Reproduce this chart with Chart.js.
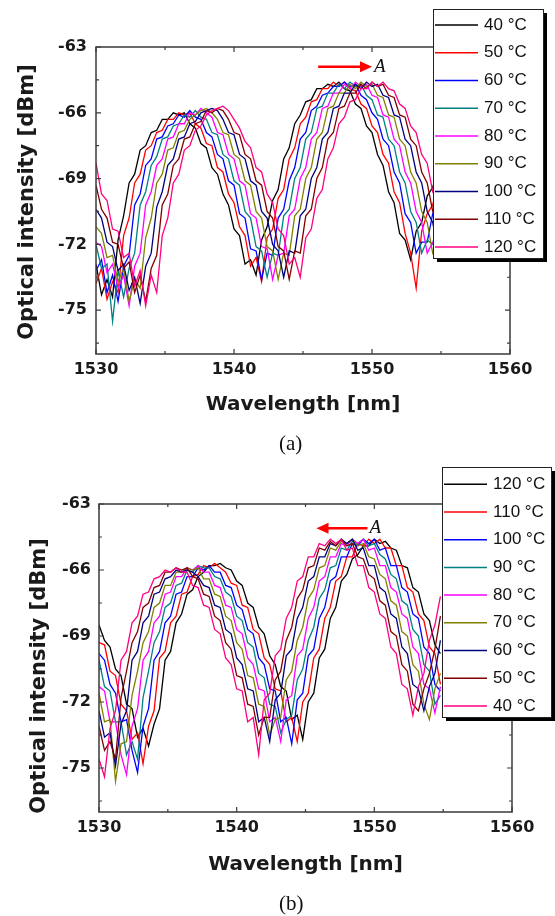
<!DOCTYPE html>
<html>
<head>
<meta charset="utf-8">
<script src="https://cdn.jsdelivr.net/npm/chart.js@4.4.1/dist/chart.umd.min.js"></script>
<style>
  body { margin: 0; background: #fff; width: 555px; height: 916px; overflow: hidden; position: relative; }
  .panel { position: absolute; left: 0; width: 555px; }
  .tag { position: absolute; font-family: "Liberation Serif", "Times New Roman", serif; font-size: 21px; color: #111; line-height: 24px; }
</style>
</head>
<body>
<div class="panel" style="top:0;height:457px"><canvas id="chartA"></canvas></div>
<div class="panel" style="top:457px;height:459px"><canvas id="chartB"></canvas></div>
<div class="tag" style="left:279px;top:431px">(a)</div>
<div class="tag" style="left:279px;top:891px">(b)</div>
<script>
// wavelength grid shared by every trace (nm)
const wavelength = [
  1530.0,1530.4,1530.8,1531.2,1531.6,1532.0,1532.4,1532.8,1533.2,1533.6,
  1534.0,1534.4,1534.8,1535.2,1535.6,1536.0,1536.4,1536.8,1537.2,1537.6,
  1538.0,1538.4,1538.8,1539.2,1539.6,1540.0,1540.4,1540.8,1541.2,1541.6,
  1542.0,1542.4,1542.8,1543.2,1543.6,1544.0,1544.4,1544.8,1545.2,1545.6,
  1546.0,1546.4,1546.8,1547.2,1547.6,1548.0,1548.4,1548.8,1549.2,1549.6,
  1550.0,1550.4,1550.8,1551.2,1551.6,1552.0,1552.4,1552.8,1553.2,1553.6,
  1554.0,1554.4,1554.8
];

const xTicks = [1530, 1540, 1550, 1560];
const xMinor = [1535, 1545, 1555];
const yTicks = [-63, -66, -69, -72, -75];
const yMinor = [-64.5, -67.5, -70.5, -73.5, -76.5];

const colors = ['#000000', '#ff0000', '#0000ff', '#008080', '#ff00ff', '#808000', '#000080', '#800000', '#ff0080'];
const labelsA = ['40 °C', '50 °C', '60 °C', '70 °C', '80 °C', '90 °C', '100 °C', '110 °C', '120 °C'];
const labelsB = ['120 °C', '110 °C', '100 °C', '90 °C', '80 °C', '70 °C', '60 °C', '50 °C', '40 °C'];

// (a) heating
const a40 = [
  -72.9,-74.3,-73.6,-74.4,-71.8,-70.7,-69.2,-68.8,-67.7,-67.5,
  -66.9,-66.8,-66.3,-66.3,-66.0,-66.1,-66.0,-66.5,-66.7,-67.4,
  -67.6,-68.5,-68.8,-69.7,-70.2,-71.3,-71.6,-72.9,-72.7,-73.4,
  -71.8,-71.2,-70.0,-69.5,-68.1,-67.6,-66.5,-66.1,-65.5,-65.4,
  -64.9,-64.9,-64.7,-64.8,-64.6,-64.9,-65.0,-65.6,-65.8,-66.6,
  -66.9,-67.9,-68.4,-69.6,-70.1,-71.5,-71.8,-72.7,-71.4,-71.0,
  -69.8,-69.4,-68.5
];
const a50 = [
  -73.8,-73.1,-74.5,-73.7,-74.2,-71.6,-70.8,-69.2,-68.8,-67.7,
  -67.5,-66.9,-66.8,-66.3,-66.3,-66.0,-66.1,-66.0,-66.5,-66.7,
  -67.4,-67.5,-68.5,-68.7,-69.7,-70.1,-71.2,-71.6,-73.0,-72.6,
  -73.7,-71.7,-71.3,-69.9,-69.5,-68.1,-67.6,-66.5,-66.2,-65.5,
  -65.4,-64.9,-64.9,-64.6,-64.8,-64.6,-64.9,-65.0,-65.6,-65.8,
  -66.6,-66.9,-67.9,-68.3,-69.6,-70.1,-71.5,-72.4,-74.0,-71.4,
  -70.6,-70.2,-69.1
];
const a60 = [
  -73.2,-72.7,-74.2,-73.4,-74.6,-73.0,-72.5,-70.2,-69.7,-68.4,
  -68.1,-67.2,-67.1,-66.6,-66.5,-66.1,-66.2,-65.9,-66.2,-66.3,
  -66.9,-67.1,-67.9,-68.1,-69.1,-69.3,-70.6,-70.8,-72.2,-72.3,
  -73.6,-72.4,-72.5,-70.8,-70.4,-69.1,-68.5,-67.2,-66.9,-65.9,
  -65.7,-65.2,-65.1,-64.8,-64.8,-64.6,-64.8,-64.7,-65.2,-65.4,
  -66.0,-66.3,-67.2,-67.5,-68.7,-69.2,-70.6,-71.0,-72.4,-71.9,
  -71.9,-70.6,-70.2
];
const a70 = [
  -72.0,-73.1,-72.9,-75.5,-73.2,-74.4,-73.1,-72.4,-70.2,-69.6,
  -68.4,-68.0,-67.2,-67.1,-66.6,-66.5,-66.1,-66.2,-65.9,-66.2,
  -66.3,-66.9,-67.0,-67.9,-68.1,-69.1,-69.3,-70.5,-70.8,-72.1,
  -72.3,-73.5,-72.4,-72.5,-70.7,-70.4,-69.0,-68.5,-67.2,-66.9,
  -65.8,-65.7,-65.1,-65.1,-64.7,-64.9,-64.6,-64.8,-64.7,-65.2,
  -65.4,-66.1,-66.2,-67.2,-67.5,-68.7,-69.2,-70.5,-71.0,-72.4,
  -71.8,-72.0,-70.6
];
const a80 = [
  -71.9,-72.1,-73.3,-72.9,-74.0,-73.4,-74.8,-73.0,-72.4,-70.2,
  -69.6,-68.4,-68.1,-67.2,-67.1,-66.5,-66.5,-66.0,-66.1,-65.8,
  -66.0,-66.2,-66.9,-67.0,-67.9,-68.1,-69.1,-69.3,-70.6,-70.8,
  -72.1,-72.2,-73.6,-72.5,-72.4,-70.7,-70.4,-69.0,-68.5,-67.2,
  -66.9,-65.8,-65.7,-65.1,-65.1,-64.7,-64.9,-64.6,-64.8,-64.7,
  -65.2,-65.3,-66.1,-66.2,-67.2,-67.5,-68.7,-69.2,-70.5,-71.0,
  -72.4,-71.9,-71.8
];
const a90 = [
  -71.2,-71.5,-72.6,-72.5,-73.7,-73.1,-74.6,-73.6,-74.0,-71.7,
  -70.8,-69.2,-68.8,-67.7,-67.6,-66.9,-66.8,-66.3,-66.1,-65.9,
  -65.8,-66.0,-66.3,-66.9,-67.0,-67.9,-68.1,-69.1,-69.3,-70.5,
  -70.8,-72.1,-72.3,-73.6,-72.4,-72.5,-70.7,-70.4,-69.0,-68.5,
  -67.2,-66.9,-65.8,-65.7,-65.1,-65.1,-64.7,-64.9,-64.6,-64.8,
  -64.7,-65.2,-65.3,-66.1,-66.2,-67.2,-67.5,-68.7,-69.2,-70.5,
  -71.0,-72.4,-72.0
];
const a100 = [
  -70.4,-70.8,-71.9,-72.1,-73.2,-72.9,-74.1,-73.5,-74.7,-73.0,
  -72.4,-70.3,-69.6,-68.4,-68.1,-67.2,-67.1,-66.5,-66.4,-66.0,
  -65.9,-65.8,-65.9,-66.3,-66.9,-67.0,-67.9,-68.1,-69.1,-69.3,
  -70.5,-70.8,-72.0,-72.3,-73.5,-72.3,-72.4,-70.7,-70.4,-69.0,
  -68.5,-67.2,-66.9,-65.8,-65.7,-65.1,-65.1,-64.7,-64.9,-64.6,
  -64.8,-64.7,-65.2,-65.3,-66.1,-66.2,-67.2,-67.5,-68.7,-69.2,
  -70.5,-71.0,-72.4
];
const a110 = [
  -69.3,-70.4,-70.8,-71.9,-72.0,-73.1,-72.8,-74.2,-73.4,-74.6,
  -73.1,-72.5,-70.2,-69.7,-68.4,-68.1,-67.2,-67.1,-66.5,-66.4,
  -65.9,-66.0,-65.8,-65.9,-66.3,-66.9,-67.0,-67.9,-68.1,-69.1,
  -69.3,-70.5,-70.8,-72.1,-72.3,-73.6,-72.3,-72.4,-70.7,-70.4,
  -69.0,-68.5,-67.2,-66.9,-65.8,-65.7,-65.1,-65.1,-64.7,-64.9,
  -64.6,-64.8,-64.7,-65.2,-65.3,-66.1,-66.2,-67.2,-67.5,-68.7,
  -69.2,-70.5,-71.0
];
const a120 = [
  -68.3,-69.7,-70.0,-71.3,-71.4,-72.6,-72.4,-73.9,-73.2,-74.8,
  -73.4,-74.2,-71.6,-70.8,-69.2,-68.8,-67.7,-67.5,-66.8,-66.6,
  -66.1,-65.9,-65.8,-65.7,-65.9,-66.3,-66.7,-67.3,-67.6,-68.5,
  -68.7,-69.7,-70.1,-71.3,-71.6,-72.9,-72.6,-73.5,-71.7,-71.3,
  -69.9,-69.5,-68.1,-67.6,-66.5,-66.2,-65.5,-65.4,-64.9,-64.9,
  -64.6,-64.8,-64.6,-64.9,-65.0,-65.6,-65.8,-66.6,-66.9,-67.9,
  -68.3,-69.6,-70.1
];

// (b) cooling
const b120 = [
  -68.5,-69.2,-69.5,-70.5,-70.8,-72.1,-72.3,-73.6,-73.2,-74.0,
  -73.0,-72.3,-70.1,-69.7,-68.4,-68.0,-67.1,-66.9,-66.3,-66.1,
  -65.8,-65.8,-65.7,-65.9,-66.0,-66.5,-66.7,-67.5,-67.7,-68.6,
  -68.9,-69.9,-70.3,-71.3,-71.5,-72.8,-72.6,-73.7,-72.0,-71.6,
  -70.0,-69.6,-68.2,-67.7,-66.5,-66.2,-65.5,-65.3,-64.9,-64.9,
  -64.6,-64.8,-64.7,-65.0,-65.1,-65.8,-65.9,-66.8,-67.0,-68.0,
  -68.3,-69.4,-69.8
];
const b110 = [
  -69.3,-69.4,-70.6,-70.8,-72.1,-72.4,-73.7,-73.4,-74.8,-73.1,
  -72.4,-70.0,-69.7,-68.4,-68.1,-67.1,-67.0,-66.3,-66.2,-65.8,
  -65.9,-65.7,-65.9,-66.1,-66.6,-66.7,-67.6,-67.7,-68.7,-68.9,
  -70.0,-70.3,-71.4,-71.5,-72.9,-72.7,-73.8,-72.0,-71.6,-70.0,
  -69.6,-68.2,-67.7,-66.5,-66.3,-65.4,-65.4,-64.8,-64.9,-64.6,
  -64.8,-64.6,-65.0,-65.0,-65.8,-65.8,-66.8,-67.0,-68.0,-68.3,
  -69.5,-69.8,-71.2
];
const b100 = [
  -69.8,-70.1,-71.2,-71.6,-72.9,-72.8,-74.2,-75.2,-73.1,-72.3,
  -70.1,-69.7,-68.4,-68.1,-67.1,-67.0,-66.3,-66.3,-65.9,-66.0,
  -65.8,-66.1,-66.1,-66.7,-66.8,-67.6,-67.8,-68.7,-68.9,-70.0,
  -70.3,-71.4,-71.5,-72.9,-72.7,-73.9,-71.9,-71.6,-69.9,-69.6,
  -68.2,-67.7,-66.5,-66.3,-65.4,-65.4,-64.8,-64.9,-64.6,-64.8,
  -64.6,-65.1,-65.0,-65.8,-65.8,-66.8,-67.0,-68.0,-68.2,-69.5,
  -69.8,-71.2,-71.5
];
const b90 = [
  -70.1,-71.3,-71.5,-72.9,-72.9,-74.4,-73.8,-74.6,-71.8,-70.6,
  -69.3,-68.8,-67.7,-67.5,-66.7,-66.6,-66.0,-66.1,-65.8,-65.9,
  -65.9,-66.3,-66.4,-67.0,-67.2,-68.1,-68.3,-69.3,-69.5,-70.7,
  -70.9,-72.1,-72.2,-73.4,-72.8,-72.6,-71.0,-70.5,-69.2,-68.6,
  -67.3,-66.9,-65.9,-65.8,-65.0,-65.1,-64.7,-64.8,-64.6,-64.9,
  -64.8,-65.3,-65.5,-66.2,-66.4,-67.4,-67.6,-68.7,-69.0,-70.3,
  -70.6,-72.1,-71.7
];
const b80 = [
  -71.3,-71.5,-72.9,-72.9,-74.4,-75.3,-73.1,-72.3,-70.1,-69.7,
  -68.4,-68.1,-67.1,-67.0,-66.3,-66.3,-65.9,-66.0,-65.8,-66.1,
  -66.1,-66.7,-66.8,-67.6,-67.7,-68.7,-68.9,-70.0,-70.3,-71.4,
  -71.5,-72.9,-72.7,-73.8,-71.9,-71.7,-69.9,-69.6,-68.2,-67.7,
  -66.5,-66.3,-65.4,-65.4,-64.8,-64.9,-64.6,-64.8,-64.6,-65.1,
  -65.0,-65.8,-65.8,-66.8,-67.0,-68.0,-68.2,-69.5,-69.8,-71.2,
  -71.4,-72.5,-71.3
];
const b70 = [
  -71.6,-72.9,-72.8,-75.6,-73.9,-73.8,-71.7,-70.6,-69.3,-68.8,
  -67.7,-67.5,-66.7,-66.7,-66.1,-66.1,-65.9,-66.0,-65.9,-66.4,
  -66.4,-67.1,-67.2,-68.1,-68.3,-69.3,-69.6,-70.8,-70.9,-72.1,
  -72.2,-73.5,-72.8,-72.7,-71.0,-70.6,-69.2,-68.6,-67.3,-66.9,
  -65.9,-65.8,-65.0,-65.1,-64.7,-64.8,-64.6,-64.9,-64.8,-65.4,
  -65.5,-66.2,-66.4,-67.4,-67.6,-68.8,-69.0,-70.3,-70.6,-72.1,
  -72.8,-71.4,-70.7
];
const b60 = [
  -72.4,-73.6,-73.4,-74.9,-73.0,-72.4,-70.1,-69.7,-68.4,-68.1,
  -67.1,-67.0,-66.4,-66.3,-66.0,-66.1,-66.0,-66.1,-66.3,-66.7,
  -66.8,-67.6,-67.7,-68.7,-68.9,-70.0,-70.3,-71.4,-71.5,-72.9,
  -72.7,-73.8,-71.9,-71.6,-69.9,-69.6,-68.2,-67.7,-66.5,-66.3,
  -65.4,-65.4,-64.8,-64.9,-64.6,-64.8,-64.6,-65.1,-65.0,-65.8,
  -65.8,-66.8,-67.0,-68.0,-68.2,-69.5,-69.8,-71.2,-71.4,-72.4,
  -71.3,-70.7,-69.2
];
const b50 = [
  -73.1,-74.2,-73.8,-74.6,-71.8,-70.6,-69.3,-68.8,-67.7,-67.5,
  -66.8,-66.7,-66.1,-66.1,-65.9,-66.0,-65.9,-66.3,-66.4,-67.1,
  -67.2,-68.1,-68.3,-69.3,-69.6,-70.8,-70.9,-72.1,-72.2,-73.5,
  -72.7,-72.7,-71.0,-70.6,-69.2,-68.6,-67.3,-66.9,-65.9,-65.8,
  -65.0,-65.1,-64.7,-64.9,-64.6,-64.9,-64.8,-65.4,-65.5,-66.2,
  -66.4,-67.4,-67.6,-68.8,-69.0,-70.3,-70.6,-72.1,-72.4,-71.4,
  -70.7,-69.6,-68.1
];
const b40 = [
  -74.6,-75.4,-73.2,-72.4,-70.1,-69.7,-68.4,-68.1,-67.1,-67.0,
  -66.4,-66.3,-66.0,-66.1,-65.9,-66.1,-66.1,-66.7,-66.8,-67.6,
  -67.7,-68.7,-68.9,-70.0,-70.3,-71.4,-71.5,-72.9,-72.7,-74.4,
  -71.9,-71.6,-69.9,-69.6,-68.2,-67.7,-66.5,-66.3,-65.4,-65.4,
  -64.8,-64.9,-64.6,-64.8,-64.6,-65.1,-65.0,-65.8,-65.8,-66.8,
  -67.0,-68.0,-68.2,-69.5,-69.8,-71.2,-71.4,-72.6,-71.3,-70.7,
  -69.2,-68.5,-67.2
];

const seriesA = [a40, a50, a60, a70, a80, a90, a100, a110, a120];
const seriesB = [b120, b110, b100, b90, b80, b70, b60, b50, b40];

// frame, inward ticks, legend box, arrow and y title
const panelDeco = {
  id: 'panelDeco',
  afterDatasetsDraw(chart, args, o) {
    const { ctx, chartArea: a, scales: { x, y } } = chart;
    ctx.save();
    ctx.strokeStyle = '#3a3a3a';
    ctx.lineWidth = 1.5;
    ctx.strokeRect(a.left, a.top, a.right - a.left, a.bottom - a.top);

    ctx.lineWidth = 1.2;
    ctx.beginPath();
    const xt = (v, len) => {
      const p = x.getPixelForValue(v);
      ctx.moveTo(p, a.bottom); ctx.lineTo(p, a.bottom - len);
      ctx.moveTo(p, a.top); ctx.lineTo(p, a.top + len);
    };
    const yt = (v, len) => {
      const p = y.getPixelForValue(v);
      ctx.moveTo(a.left, p); ctx.lineTo(a.left + len, p);
      ctx.moveTo(a.right, p); ctx.lineTo(a.right - len, p);
    };
    xTicks.forEach(v => xt(v, 5));
    xMinor.forEach(v => xt(v, 3));
    yTicks.forEach(v => yt(v, 5));
    yMinor.forEach(v => yt(v, 3));
    ctx.stroke();

    // y axis title
    ctx.save();
    ctx.translate(o.yTitle.x, o.yTitle.y);
    ctx.rotate(-Math.PI / 2);
    ctx.fillStyle = '#1a1a1a';
    ctx.font = 'bold 21px "DejaVu Sans"';
    ctx.textAlign = 'center';
    ctx.textBaseline = 'middle';
    ctx.fillText('Optical intensity [dBm]', 0, 0);
    ctx.restore();

    // shift arrow
    const ar = o.arrow;
    const x0 = x.getPixelForValue(ar.from), x1 = x.getPixelForValue(ar.to), yy = y.getPixelForValue(ar.y);
    const dir = Math.sign(x1 - x0);
    ctx.strokeStyle = '#ff0000';
    ctx.fillStyle = '#ff0000';
    ctx.lineWidth = 2.5;
    ctx.beginPath();
    ctx.moveTo(x0, yy); ctx.lineTo(x1 - dir * 10, yy);
    ctx.stroke();
    ctx.beginPath();
    ctx.moveTo(x1, yy);
    ctx.lineTo(x1 - dir * 12, yy - 5.5);
    ctx.lineTo(x1 - dir * 12, yy + 5.5);
    ctx.closePath();
    ctx.fill();
    ctx.fillStyle = '#111';
    ctx.font = 'italic 19px "Liberation Serif"';
    ctx.textAlign = 'left';
    ctx.textBaseline = 'middle';
    ctx.fillText('A', Math.max(x0, x1) + 2, yy);

    // legend
    const lg = o.legend;
    ctx.fillStyle = '#000';
    ctx.fillRect(lg.x + 4, lg.y + 4, lg.w, lg.h);
    ctx.fillStyle = '#fff';
    ctx.fillRect(lg.x, lg.y, lg.w, lg.h);
    ctx.strokeStyle = '#222';
    ctx.lineWidth = 1;
    ctx.strokeRect(lg.x + 0.5, lg.y + 0.5, lg.w, lg.h);
    ctx.font = '17px "Liberation Sans"';
    ctx.textBaseline = 'middle';
    chart.data.datasets.forEach((ds, i) => {
      const ry = lg.row0 + i * lg.step;
      ctx.strokeStyle = ds.borderColor;
      ctx.lineWidth = 1.5;
      ctx.beginPath();
      ctx.moveTo(lg.lineX0, ry); ctx.lineTo(lg.lineX1, ry);
      ctx.stroke();
      ctx.fillStyle = '#111';
      ctx.fillText(ds.label, lg.textX, ry);
    });
    ctx.restore();
  }
};

function makeChart(id, series, labels, cfg) {
  return new Chart(document.getElementById(id), {
    type: 'line',
    data: {
      datasets: series.map((s, k) => ({
        label: labels[k],
        data: wavelength.map((w, i) => ({ x: w, y: s[i] })),
        borderColor: colors[k],
        borderWidth: 1.3,
        pointRadius: 0,
        tension: 0,
        order: 8 - k
      }))
    },
    options: {
      responsive: true,
      maintainAspectRatio: false,
      animation: false,
      layout: { padding: { top: cfg.top, right: cfg.right, left: 0, bottom: 0 } },
      plugins: {
        legend: { display: false },
        tooltip: { enabled: false },
        panelDeco: cfg.deco
      },
      scales: {
        x: {
          type: 'linear',
          min: 1530, max: 1560,
          afterBuildTicks: s => { s.ticks = xTicks.map(v => ({ value: v })); },
          afterFit: s => { s.height = cfg.xh; },
          grid: { display: false, drawTicks: false },
          border: { display: false },
          ticks: { color: '#1a1a1a', padding: 6, maxRotation: 0, autoSkip: false,
                   callback: v => String(v),
                   font: { family: 'DejaVu Sans', weight: 'bold', size: 16 } },
          title: { display: true, text: 'Wavelength [nm]', color: '#1a1a1a',
                   font: { family: 'DejaVu Sans', weight: 'bold', size: 20 },
                   padding: { top: 0, bottom: cfg.titlePad } }
        },
        y: {
          min: -77, max: -63,
          afterBuildTicks: s => { s.ticks = yTicks.map(v => ({ value: v })); },
          afterFit: s => { s.width = cfg.yw; },
          grid: { display: false, drawTicks: false },
          border: { display: false },
          ticks: { color: '#1a1a1a', padding: cfg.yPad, autoSkip: false,
                   callback: v => String(v),
                   font: { family: 'DejaVu Sans', weight: 'bold', size: 16 } }
        }
      }
    },
    plugins: [panelDeco]
  });
}

makeChart('chartA', seriesA, labelsA, {
  top: 47, right: 45, yw: 96, xh: 103, titlePad: 40, yPad: 9,
  deco: {
    yTitle: { x: 27.5, y: 202 },
    arrow: { from: 1546.1, to: 1550.0, y: -63.9 },
    legend: { x: 433, y: 9, w: 110, h: 249, row0: 25, step: 27.75, lineX0: 435, lineX1: 478, textX: 484 }
  }
});

makeChart('chartB', seriesB, labelsB, {
  top: 47, right: 43, yw: 99, xh: 104, titlePad: 39, yPad: 8,
  deco: {
    yTitle: { x: 39.5, y: 219 },
    arrow: { from: 1549.5, to: 1545.8, y: -64.1 },
    legend: { x: 442, y: 10, w: 109, h: 250, row0: 27.3, step: 27.7, lineX0: 444, lineX1: 487, textX: 493 }
  }
});
</script>
</body>
</html>
